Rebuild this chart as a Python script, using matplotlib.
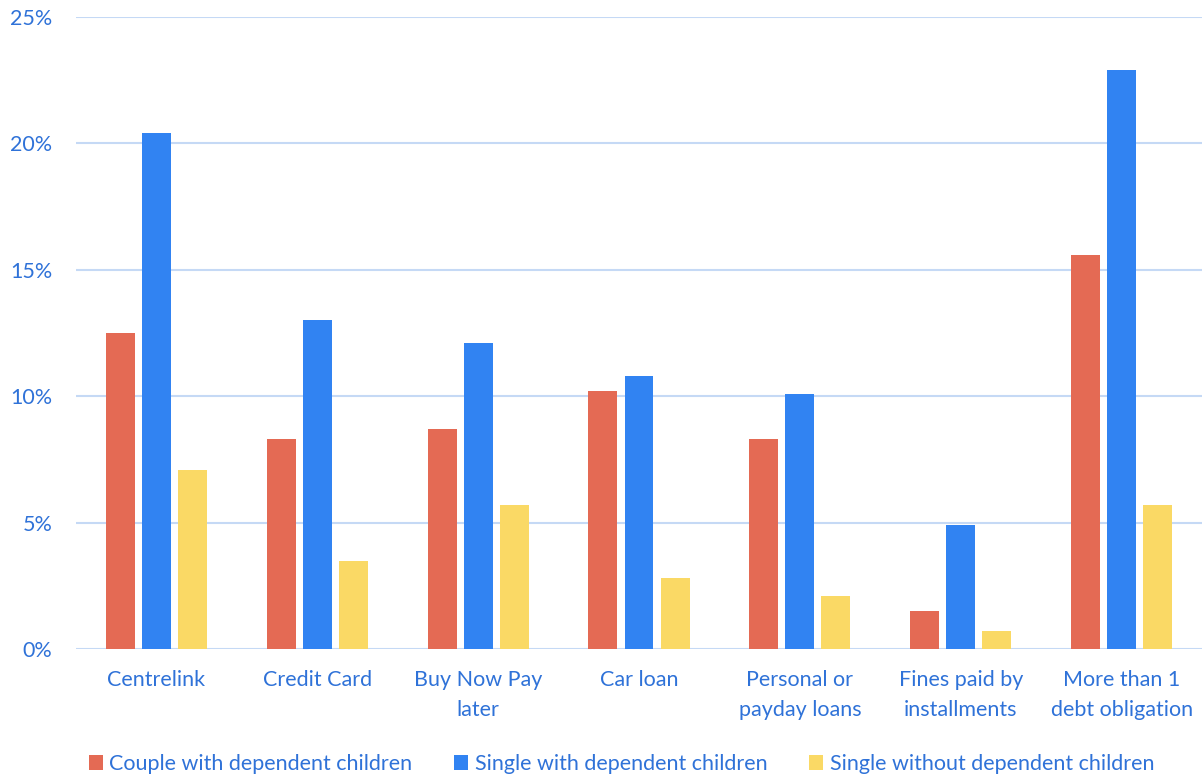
import matplotlib.pyplot as plt
import numpy as np
from matplotlib.ticker import FuncFormatter

# debt type share by household type (%)
categories = ["Centrelink", "Credit Card", "Buy Now Pay\nlater", "Car loan",
              "Personal or\npayday loans", "Fines paid by\ninstallments",
              "More than 1\ndebt obligation"]
couple_kids = [12.5, 8.3, 8.7, 10.2, 8.3, 1.5, 15.6]
single_kids = [20.4, 13.0, 12.1, 10.8, 10.1, 4.9, 22.9]
single_no_kids = [7.1, 3.5, 5.7, 2.8, 2.1, 0.7, 5.7]
series_names = ["Couple with dependent children", "Single with dependent children",
                "Single without dependent children"]
colors = ["#E46A54", "#3183F2", "#FAD965"]
textcol = "#2F72D8"

plt.rcParams['font.family'] = ['Lato', 'DejaVu Sans']

fig = plt.figure(figsize=(12.02, 7.74), dpi=100)
ax = fig.add_axes([76 / 1202, 125 / 774, 1 - 76 / 1202, 632 / 774])

x = np.arange(len(categories))
step = 0.224
width = 0.18
for i, vals in enumerate([couple_kids, single_kids, single_no_kids]):
    ax.bar(x + (i - 1) * step, vals, width, color=colors[i], label=series_names[i], zorder=3)

ax.set_xlim(-0.5, len(categories) - 0.5)
ax.set_ylim(0, 25)
ax.set_yticks([0, 5, 10, 15, 20, 25])
ax.yaxis.set_major_formatter(FuncFormatter(lambda v, p: f"{v:.0f}%"))
ax.set_xticks(x)
ax.set_xticklabels(categories, linespacing=1.62)
ax.grid(axis='y', color="#C5D9F5", linewidth=1.5, zorder=0)
for s in ax.spines.values():
    s.set_visible(False)
ax.tick_params(axis='both', length=0, labelsize=15.5, colors=textcol)
ax.tick_params(axis='y', pad=17)
ax.tick_params(axis='x', pad=15)
for lab in ax.get_xticklabels():
    lab.set_verticalalignment('top')

leg = fig.legend(loc='lower center', bbox_to_anchor=(0.517, -0.025), ncol=3, frameon=False,
                 fontsize=15.5, handlelength=0.65, handleheight=0.65, handletextpad=0.3,
                 columnspacing=1.95)
for t in leg.get_texts():
    t.set_color(textcol)

fig.savefig("out.png", dpi=100)
